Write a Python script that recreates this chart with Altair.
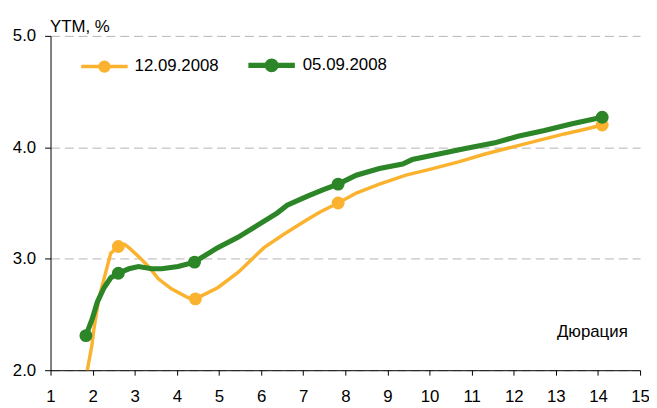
import altair as alt
import pandas as pd

FONT = "Liberation Sans, Arial, sans-serif"
FS = 17

series_names = ["12.09.2008", "05.09.2008"]
series_colors = ["#FBB22E", "#2C8526"]

# 12.09.2008 curve
orange_line_x = [1.80, 1.98, 2.03, 2.15, 2.27, 2.43, 2.61, 2.75, 2.86, 3.09, 3.33, 3.56, 3.87, 4.27, 4.44,
                 4.97, 5.46, 6.07, 6.54, 7.09, 7.40, 7.83, 8.26, 8.81, 9.44, 9.98, 10.69, 11.32, 11.94,
                 12.57, 13.20, 13.67, 14.10]
orange_line_y = [1.85, 2.22, 2.37, 2.65, 2.82, 3.05, 3.11, 3.13, 3.10, 3.02, 2.93, 2.82, 2.73, 2.65, 2.64,
                 2.74, 2.88, 3.10, 3.22, 3.35, 3.42, 3.50, 3.59, 3.67, 3.75, 3.80, 3.87, 3.94, 4.00,
                 4.06, 4.12, 4.16, 4.20]
# 05.09.2008 curve
green_line_x = [1.84, 1.99, 2.11, 2.27, 2.43, 2.61, 2.86, 3.09, 3.40, 3.64, 4.03, 4.42, 4.50, 4.97, 5.44,
                5.91, 6.38, 6.62, 7.09, 7.48, 7.83, 8.26, 8.81, 9.36, 9.59, 10.22, 10.85, 11.55, 12.10,
                12.73, 13.36, 14.10]
green_line_y = [2.31, 2.46, 2.61, 2.74, 2.83, 2.87, 2.91, 2.93, 2.91, 2.91, 2.93, 2.97, 2.99, 3.10, 3.19,
                3.30, 3.41, 3.48, 3.56, 3.62, 3.67, 3.75, 3.81, 3.85, 3.89, 3.94, 3.99, 4.04, 4.10,
                4.15, 4.21, 4.27]

# markers
orange_pts_x = [1.80, 2.61, 4.44, 7.83, 14.10]
orange_pts_y = [1.85, 3.11, 2.64, 3.50, 4.20]
green_pts_x = [1.84, 2.61, 4.42, 7.83, 14.10]
green_pts_y = [2.31, 2.87, 2.97, 3.67, 4.27]

x_ticks = list(range(1, 16))
y_ticks = [2.0, 3.0, 4.0, 5.0]

line_df = pd.concat([
    pd.DataFrame({"x": orange_line_x, "y": orange_line_y, "series": series_names[0], "o": range(len(orange_line_x))}),
    pd.DataFrame({"x": green_line_x, "y": green_line_y, "series": series_names[1], "o": range(len(green_line_x))}),
])
pts_df = pd.concat([
    pd.DataFrame({"x": orange_pts_x, "y": orange_pts_y, "series": series_names[0]}),
    pd.DataFrame({"x": green_pts_x, "y": green_pts_y, "series": series_names[1]}),
])

x_enc = alt.X("x:Q", scale=alt.Scale(domain=[1, 15], nice=False, zero=False),
              axis=alt.Axis(values=x_ticks, format="d", title="Дюрация", grid=False,
                            tickSize=5, labelPadding=27, labelBaseline="alphabetic",
                            labelFlush=False, titleX=583, titleY=-34, titleAlign="right",
                            titleBaseline="alphabetic", titleAnchor="start"))
y_enc = alt.Y("y:Q", scale=alt.Scale(domain=[2, 5], nice=False, zero=False),
              axis=alt.Axis(values=y_ticks, format=".1f", title="YTM, %", grid=True,
                            gridDash=[9, 5], gridColor="#b4b4b4", gridWidth=1,
                            tickSize=6, labelPadding=9, titleAngle=0, titleX=-1, titleY=-4,
                            titleAlign="left", titleBaseline="alphabetic", titleAnchor="start"))

color_scale = alt.Scale(domain=series_names, range=series_colors)

# legend symbol: a horizontal line with a dot in the middle (stroked with the series line width)
legend_path = ("M-1,0L1,0 "
               "M0.19,0A0.19,0.19 0 1 1 -0.19,0A0.19,0.19 0 1 1 0.19,0Z")

legend = alt.Legend(title=None, orient="none", legendX=29, legendY=3,
                    direction="horizontal", symbolType=legend_path,
                    symbolSize=2209, symbolOpacity=1,
                    labelFont=FONT, labelFontSize=FS, labelColor="black",
                    labelOffset=5, columnPadding=18, padding=0, labelLimit=300)

lines = alt.Chart(line_df).mark_line(clip=True).encode(
    x=x_enc, y=y_enc,
    color=alt.Color("series:N", scale=color_scale, legend=legend),
    strokeWidth=alt.StrokeWidth("series:N",
                                scale=alt.Scale(type="ordinal", domain=series_names, range=[3.5, 5.2]),
                                legend=None),
    order="o:Q",
)

points = alt.Chart(pts_df).mark_point(filled=True, opacity=1, size=170, clip=True).encode(
    x=x_enc, y=y_enc,
    color=alt.Color("series:N", scale=color_scale, legend=legend),
)

chart = alt.layer(lines, points).properties(
    width=596, height=338,
    autosize=alt.AutoSizeParams(type="none"),
    padding={"left": 43, "top": 26, "right": 9, "bottom": 34},
    background="white",
).configure_view(stroke=None).configure_axis(
    domainColor="black", tickColor="black", labelColor="black", titleColor="black",
    labelFont=FONT, titleFont=FONT, labelFontSize=FS, titleFontSize=FS,
    titleFontWeight="normal", domainWidth=1, tickWidth=1,
)

chart.save("out.html", embed_options={"renderer": "svg", "actions": False})
